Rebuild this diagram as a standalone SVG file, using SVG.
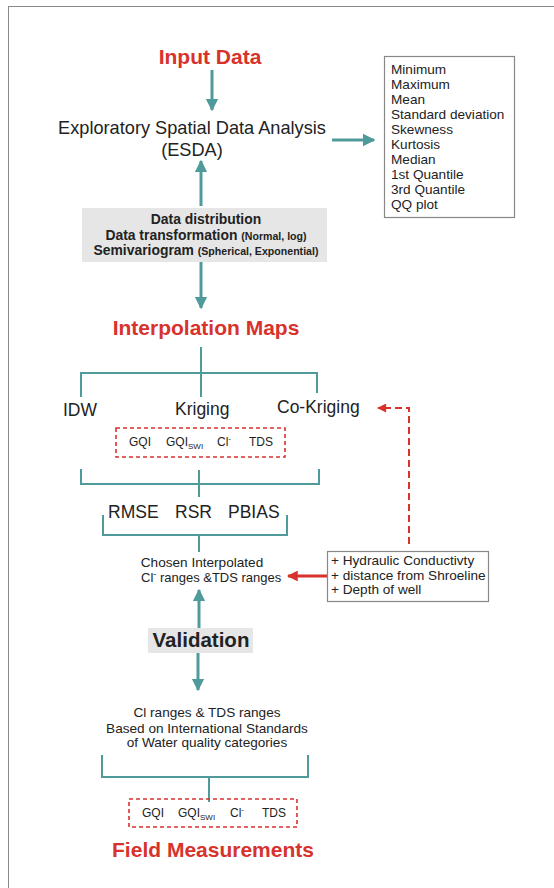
<svg xmlns="http://www.w3.org/2000/svg" width="554" height="888" viewBox="0 0 554 888">
  <style>
    .t { font-family: "Liberation Sans", Arial, sans-serif; fill: #222; }
    .title { font-family: "Liberation Sans", Arial, sans-serif; font-weight: bold; fill: #d8322c; font-size: 21px; text-anchor: middle; }
    .lbl { font-size: 17.5px; }
    .sm { font-size: 13.6px; }
    .xs { font-size: 12px; }
    .b { font-weight: bold; }
    .flow { stroke: #4f9a9b; stroke-width: 3; fill: none; }
    .tree { stroke: #4f9a9b; stroke-width: 2; fill: none; }
    .redflow { stroke: #d8322c; stroke-width: 3; fill: none; }
    .reddash { stroke: #d8322c; stroke-width: 2; fill: none; stroke-dasharray: 7 4; }
    .dashbox { stroke: #d8322c; stroke-width: 1.6; fill: none; stroke-dasharray: 4 3; }
    .box { stroke: #888; stroke-width: 1.2; fill: #fff; }
    .grey { fill: #e6e6e6; }
  </style>
  <defs>
    <marker id="tealHead" viewBox="0 0 10 10" refX="9" refY="5" markerWidth="4.2" markerHeight="4.6" orient="auto" markerUnits="strokeWidth">
      <path d="M0,0 L10,5 L0,10 z" fill="#4f9a9b"/>
    </marker>
    <marker id="redHead" viewBox="0 0 10 10" refX="9" refY="5" markerWidth="4" markerHeight="3.6" orient="auto" markerUnits="strokeWidth">
      <path d="M0,0 L10,5 L0,10 z" fill="#d8322c"/>
    </marker>
    <marker id="redHeadSmall" viewBox="0 0 10 10" refX="9" refY="5" markerWidth="5" markerHeight="4.5" orient="auto" markerUnits="strokeWidth">
      <path d="M0,0 L10,5 L0,10 z" fill="#d8322c"/>
    </marker>
  </defs>

  <rect x="0" y="0" width="554" height="888" fill="#fff"/>
  <!-- page frame -->
  <rect x="8.5" y="6.5" width="560" height="900" fill="none" stroke="#8a8a8a" stroke-width="1"/>

  <!-- connectors -->
  <g id="connectors">
    <line class="flow" x1="212" y1="70" x2="212" y2="110" marker-end="url(#tealHead)"/>
    <line class="flow" x1="201" y1="206" x2="201" y2="161" marker-end="url(#tealHead)"/>
    <line class="flow" x1="332" y1="140" x2="374" y2="140" marker-end="url(#tealHead)"/>
    <line class="flow" x1="201" y1="262" x2="201" y2="308" marker-end="url(#tealHead)"/>

    <!-- split to the three methods -->
    <path class="tree" d="M201,347 V397 M81,397 V373 H317 V393"/>
    <!-- merge of the three methods -->
    <path class="tree" d="M81,469 V484 H319 V469 M199,470 V497"/>
    <!-- merge of error statistics -->
    <path class="tree" d="M103,515 V535 H287 V515 M199,535 V552"/>

    <line class="flow" x1="199" y1="628" x2="199" y2="590" marker-end="url(#tealHead)"/>
    <line class="flow" x1="198" y1="653" x2="198" y2="690" marker-end="url(#tealHead)"/>

    <!-- criteria bracket -->
    <path class="tree" d="M102,755 V777 H308 V755 M209,777 V802"/>

    <!-- auxiliary variables -->
    <line class="redflow" x1="327" y1="576" x2="288" y2="576" marker-end="url(#redHead)"/>
    <path class="reddash" d="M409,544 V408 H378" marker-end="url(#redHeadSmall)"/>
  </g>

  <g id="input-data">
    <text class="title" x="210" y="64">Input Data</text>
  </g>

  <g id="esda">
    <text class="t" font-size="18.2" x="192" y="134" text-anchor="middle">Exploratory Spatial Data Analysis</text>
    <text class="t" font-size="18.2" x="192" y="156" text-anchor="middle">(ESDA)</text>
  </g>

  <g id="statistics">
    <rect class="box" x="384.5" y="56.5" width="130" height="161"/>
    <text class="t sm" x="391">
      <tspan x="391" y="74">Minimum</tspan>
      <tspan x="391" y="89">Maximum</tspan>
      <tspan x="391" y="104">Mean</tspan>
      <tspan x="391" y="119">Standard deviation</tspan>
      <tspan x="391" y="134">Skewness</tspan>
      <tspan x="391" y="149">Kurtosis</tspan>
      <tspan x="391" y="164">Median</tspan>
      <tspan x="391" y="179">1st Quantile</tspan>
      <tspan x="391" y="194">3rd Quantile</tspan>
      <tspan x="391" y="209">QQ plot</tspan>
    </text>
  </g>

  <g id="modelling">
    <rect class="grey" x="82" y="208" width="245" height="54"/>
    <text class="t b" font-size="13.9" x="206" y="224" text-anchor="middle">Data distribution</text>
    <text class="t b" font-size="13.9" x="206" y="240" text-anchor="middle">Data transformation <tspan font-size="10.6">(Normal, log)</tspan></text>
    <text class="t b" font-size="13.9" x="206" y="255" text-anchor="middle">Semivariogram <tspan font-size="10.6">(Spherical, Exponential)</tspan></text>
  </g>

  <g id="interpolation-maps">
    <text class="title" x="206" y="335">Interpolation Maps</text>
  </g>

  <g id="idw"><text class="t lbl" x="63" y="416">IDW</text></g>
  <g id="kriging"><text class="t lbl" x="175" y="415">Kriging</text></g>
  <g id="co-kriging"><text class="t lbl" x="277" y="413">Co-Kriging</text></g>

  <g id="parameters-maps">
    <rect class="dashbox" x="116" y="428" width="169" height="29"/>
    <text class="t xs" x="129" y="446">GQI</text>
    <text class="t xs" x="166" y="446">GQI<tspan font-size="8" dy="3">SWI</tspan></text>
    <text class="t xs" x="217" y="446">Cl<tspan font-size="8" dy="-5">-</tspan></text>
    <text class="t xs" x="249" y="446">TDS</text>
  </g>

  <g id="error-statistics">
    <text class="t lbl" x="108" y="518">RMSE</text>
    <text class="t lbl" x="175" y="518">RSR</text>
    <text class="t lbl" x="228" y="518">PBIAS</text>
  </g>

  <g id="chosen-ranges">
    <text class="t sm" x="202" y="567" text-anchor="middle">Chosen Interpolated</text>
    <text class="t" font-size="13" x="141" y="582">Cl<tspan font-size="9" dy="-5">-</tspan><tspan dy="5"> ranges &amp;TDS ranges</tspan></text>
  </g>

  <g id="auxiliary-variables">
    <rect class="box" x="327.5" y="551.5" width="161" height="50"/>
    <text class="t sm" x="331" y="565">+ Hydraulic Conductivty</text>
    <text class="t sm" x="331" y="580">+ distance from Shroeline</text>
    <text class="t sm" x="331" y="594">+ Depth of well</text>
  </g>

  <g id="validation">
    <rect class="grey" x="148" y="628" width="105" height="25"/>
    <text class="t b" x="201" y="647" font-size="20.5" text-anchor="middle">Validation</text>
  </g>

  <g id="standards">
    <text class="t sm" x="207" y="717" text-anchor="middle">Cl ranges &amp; TDS ranges</text>
    <text class="t sm" x="207" y="733" text-anchor="middle">Based on International Standards</text>
    <text class="t sm" x="207" y="747" text-anchor="middle">of Water quality categories</text>
  </g>

  <g id="parameters-field">
    <rect class="dashbox" x="129" y="799" width="168" height="28"/>
    <text class="t xs" x="142" y="817">GQI</text>
    <text class="t xs" x="178" y="817">GQI<tspan font-size="8" dy="3">SWI</tspan></text>
    <text class="t xs" x="230" y="817">Cl<tspan font-size="8" dy="-5">-</tspan></text>
    <text class="t xs" x="262" y="817">TDS</text>
  </g>

  <g id="field-measurements">
    <text class="title" x="213" y="857">Field Measurements</text>
  </g>
</svg>
